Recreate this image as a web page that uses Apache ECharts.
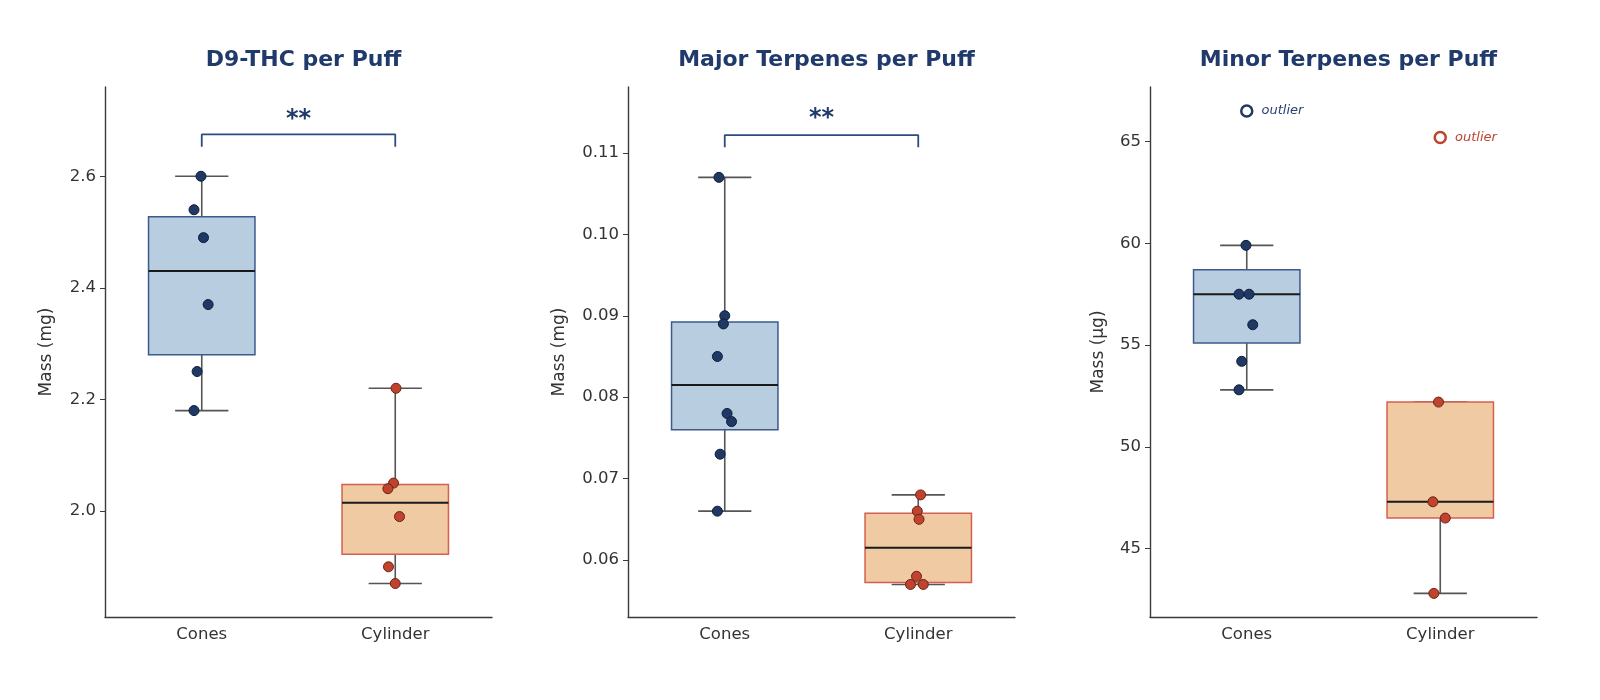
<!DOCTYPE html>
<html>
<head>
<meta charset="utf-8">
<script src="https://cdn.jsdelivr.net/npm/echarts@6/dist/echarts.min.js"></script>
<style>
  html, body { margin: 0; padding: 0; background: #ffffff; }
  #chart { width: 1600px; height: 700px; }
</style>
</head>
<body>
<div id="chart"></div>
<script>
// Groups on the x axis
const groups = ['Cones', 'Cylinder'];

// D9-THC per puff (mg)
const thcCones = [2.60, 2.54, 2.49, 2.37, 2.25, 2.18];
const thcCylinder = [2.22, 2.05, 2.04, 1.99, 1.90, 1.87];

// Major terpenes per puff (mg)
const majorCones = [0.107, 0.090, 0.089, 0.085, 0.078, 0.077, 0.073, 0.066];
const majorCylinder = [0.068, 0.066, 0.065, 0.058, 0.057, 0.057];

// Minor terpenes per puff (µg), outliers kept apart
const minorCones = [59.9, 57.5, 57.5, 56.0, 54.2, 52.8];
const minorCylinder = [52.2, 47.3, 46.5, 42.8];
const minorConesOutlier = [66.5];
const minorCylinderOutlier = [65.2];

// Horizontal jitter of the dots (fraction of a category band)
const thcConesJitter = [-0.004, -0.04, 0.009, 0.033, -0.024, -0.04];
const thcCylinderJitter = [0.004, -0.009, -0.038, 0.022, -0.035, 0];
const majorConesJitter = [-0.03, 0, -0.007, -0.038, 0.012, 0.035, -0.024, -0.038];
const majorCylinderJitter = [0.012, -0.005, 0.004, -0.009, -0.04, 0.026];
const minorConesJitter = [-0.004, -0.04, 0.012, 0.031, -0.026, -0.04];
const minorCylinderJitter = [-0.009, -0.038, 0.026, -0.033];

// Axis tick labels
const thcTicks = [2.0, 2.2, 2.4, 2.6];
const majorTicks = [0.06, 0.07, 0.08, 0.09, 0.10, 0.11];
const minorTicks = [45, 50, 55, 60, 65];

// Significance bracket: [leg bottom, bracket top, star label]
const thcSig = [2.653, 2.675, 2.702];
const majorSig = [0.1107, 0.1122, 0.1142];

const FONT = '"DejaVu Sans", sans-serif';
const palette = [
    { fill: '#b9cde0', edge: '#3b5b8c', dot: '#1f3864', dotEdge: '#0f1e3a', note: '#2a3f72' },
    { fill: '#efcaa2', edge: '#d4604f', dot: '#c0432e', dotEdge: '#6b2318', note: '#b94430' }
];

// Linear quantile, same as numpy default
function quantile(sorted, p) {
    const pos = (sorted.length - 1) * p;
    const lo = Math.floor(pos);
    const frac = pos - lo;
    return frac ? sorted[lo] + frac * (sorted[lo + 1] - sorted[lo]) : sorted[lo];
}

// [x, whiskerLow, q1, median, q3, whiskerHigh] with 1.5 IQR whiskers
function boxStats(values, x) {
    const s = [...values].sort((a, b) => a - b);
    const q1 = quantile(s, 0.25);
    const med = quantile(s, 0.5);
    const q3 = quantile(s, 0.75);
    const iqr = q3 - q1;
    const inside = s.filter(v => v >= q1 - 1.5 * iqr && v <= q3 + 1.5 * iqr);
    return [x, inside[0], q1, med, q3, inside[inside.length - 1]];
}

function jittered(values, jitter, x) {
    return values.map((v, i) => [x + jitter[i], v]);
}

const panels = [
    {
        title: 'D9-THC per Puff', yName: 'Mass (mg)', nameGap: 50,
        min: 1.81, max: 2.76, ticks: thcTicks, digits: 1,
        cones: thcCones, cyl: thcCylinder,
        conesJit: thcConesJitter, cylJit: thcCylinderJitter,
        sig: thcSig
    },
    {
        title: 'Major Terpenes per Puff', yName: 'Mass (mg)', nameGap: 60,
        min: 0.053, max: 0.1181, ticks: majorTicks, digits: 2,
        cones: majorCones, cyl: majorCylinder,
        conesJit: majorConesJitter, cylJit: majorCylinderJitter,
        sig: majorSig
    },
    {
        title: 'Minor Terpenes per Puff', yName: 'Mass (µg)', nameGap: 43,
        min: 41.64, max: 67.68, ticks: minorTicks, digits: 0,
        cones: minorCones, cyl: minorCylinder,
        conesJit: minorConesJitter, cylJit: minorCylinderJitter,
        conesOut: minorConesOutlier, cylOut: minorCylinderOutlier
    }
];

const gridLefts = [105, 628, 1150];
const gridWidth = 387;

const grid = [];
const title = [];
const xAxis = [];
const yAxis = [];
const series = [];

panels.forEach((p, i) => {
    grid.push({ left: gridLefts[i], width: gridWidth, top: 87, bottom: 83 });

    title.push({
        text: p.title,
        left: gridLefts[i] + gridWidth / 2,
        top: 44,
        textAlign: 'center',
        textStyle: { fontFamily: FONT, fontSize: 22, fontWeight: 'bold', color: '#1f3a6b' }
    });

    // visible category axis
    xAxis.push({
        type: 'category',
        gridIndex: i,
        data: groups,
        axisLine: { onZero: false, lineStyle: { color: '#3a3a3a', width: 1.4 } },
        axisTick: { alignWithLabel: true, length: 5, lineStyle: { color: '#3a3a3a' } },
        axisLabel: { fontFamily: FONT, fontSize: 16.5, color: '#333', margin: 9 },
        splitLine: { show: false }
    });

    yAxis.push({
        type: 'value',
        gridIndex: i,
        min: p.min,
        max: p.max,
        name: p.yName,
        nameLocation: 'middle',
        nameGap: p.nameGap,
        nameTextStyle: { fontFamily: FONT, fontSize: 17, color: '#333' },
        axisLine: { show: true, onZero: false, lineStyle: { color: '#3a3a3a', width: 1.4 } },
        axisTick: { show: true, length: 5, customValues: p.ticks, lineStyle: { color: '#3a3a3a' } },
        axisLabel: {
            fontFamily: FONT, fontSize: 16.5, color: '#333', margin: 9,
            customValues: p.ticks,
            formatter: v => v.toFixed(p.digits)
        },
        splitLine: { show: false }
    });
});

// hidden value axes so dots can be jittered inside each band
panels.forEach((p, i) => {
    xAxis.push({ type: 'value', gridIndex: i, min: -0.5, max: 1.5, show: false });
});

function renderBox(params, api) {
    const x = api.value(0);
    const low = api.value(1), q1 = api.value(2), med = api.value(3), q3 = api.value(4), high = api.value(5);
    const hw = 0.275, cw = 0.1375;
    const col = palette[params.dataIndex];
    const c = v => api.coord(v);
    const topLeft = c([x - hw, q3]);
    const botRight = c([x + hw, q1]);
    const whisker = { stroke: '#555', lineWidth: 1.6 };
    return {
        type: 'group',
        children: [
            { type: 'line', shape: { x1: c([x, low])[0], y1: c([x, low])[1], x2: c([x, q1])[0], y2: c([x, q1])[1] }, style: whisker },
            { type: 'line', shape: { x1: c([x, q3])[0], y1: c([x, q3])[1], x2: c([x, high])[0], y2: c([x, high])[1] }, style: whisker },
            { type: 'line', shape: { x1: c([x - cw, low])[0], y1: c([x, low])[1], x2: c([x + cw, low])[0], y2: c([x, low])[1] }, style: whisker },
            { type: 'line', shape: { x1: c([x - cw, high])[0], y1: c([x, high])[1], x2: c([x + cw, high])[0], y2: c([x, high])[1] }, style: whisker },
            {
                type: 'rect',
                shape: { x: topLeft[0], y: topLeft[1], width: botRight[0] - topLeft[0], height: botRight[1] - topLeft[1] },
                style: { fill: col.fill, stroke: col.edge, lineWidth: 1.5 }
            },
            {
                type: 'line',
                shape: { x1: topLeft[0], y1: c([x, med])[1], x2: botRight[0], y2: c([x, med])[1] },
                style: { stroke: '#1a1a1a', lineWidth: 2 }
            }
        ]
    };
}

panels.forEach((p, i) => {
    const xi = 3 + i;
    const conesAll = p.conesOut ? p.cones.concat(p.conesOut) : p.cones;
    const cylAll = p.cylOut ? p.cyl.concat(p.cylOut) : p.cyl;

    series.push({
        type: 'custom',
        xAxisIndex: xi,
        yAxisIndex: i,
        renderItem: renderBox,
        data: [boxStats(conesAll, 0), boxStats(cylAll, 1)],
        z: 2,
        silent: true
    });

    [[p.cones, p.conesJit, 0], [p.cyl, p.cylJit, 1]].forEach(([vals, jit, g]) => {
        series.push({
            type: 'scatter',
            xAxisIndex: xi,
            yAxisIndex: i,
            data: jittered(vals, jit, g),
            symbolSize: 10,
            itemStyle: { color: palette[g].dot, borderColor: palette[g].dotEdge, borderWidth: 1, opacity: 1 },
            z: 5,
            silent: true
        });
    });

    if (p.conesOut) {
        [[p.conesOut, 0], [p.cylOut, 1]].forEach(([vals, g]) => {
            series.push({
                type: 'scatter',
                xAxisIndex: xi,
                yAxisIndex: i,
                data: vals.map(v => [g, v]),
                symbolSize: 11,
                itemStyle: { color: '#ffffff', borderColor: palette[g].dot, borderWidth: 2.5, opacity: 1 },
                label: {
                    show: true,
                    position: 'right',
                    distance: 8,
                    formatter: 'outlier',
                    fontFamily: FONT,
                    fontStyle: 'italic',
                    fontSize: 13,
                    color: palette[g].note
                },
                z: 5,
                silent: true
            });
        });
    }

    if (p.sig) {
        series.push({
            type: 'line',
            xAxisIndex: xi,
            yAxisIndex: i,
            data: [[0, p.sig[0]], [0, p.sig[1]], [1, p.sig[1]], [1, p.sig[0]]],
            symbol: 'none',
            lineStyle: { color: '#2e4a85', width: 1.8 },
            z: 4,
            silent: true
        });
        series.push({
            type: 'scatter',
            xAxisIndex: xi,
            yAxisIndex: i,
            data: [[0.5, p.sig[2]]],
            symbolSize: 0,
            itemStyle: { opacity: 1 },
            label: {
                show: true,
                position: 'inside',
                formatter: '**',
                fontFamily: FONT,
                fontSize: 24,
                fontWeight: 'bold',
                color: '#1f3a6b'
            },
            silent: true
        });
    }
});

const chart = echarts.init(document.getElementById('chart'));
chart.setOption({
    backgroundColor: '#ffffff',
    animation: false,
    title: title,
    grid: grid,
    xAxis: xAxis,
    yAxis: yAxis,
    series: series
});
</script>
</body>
</html>
